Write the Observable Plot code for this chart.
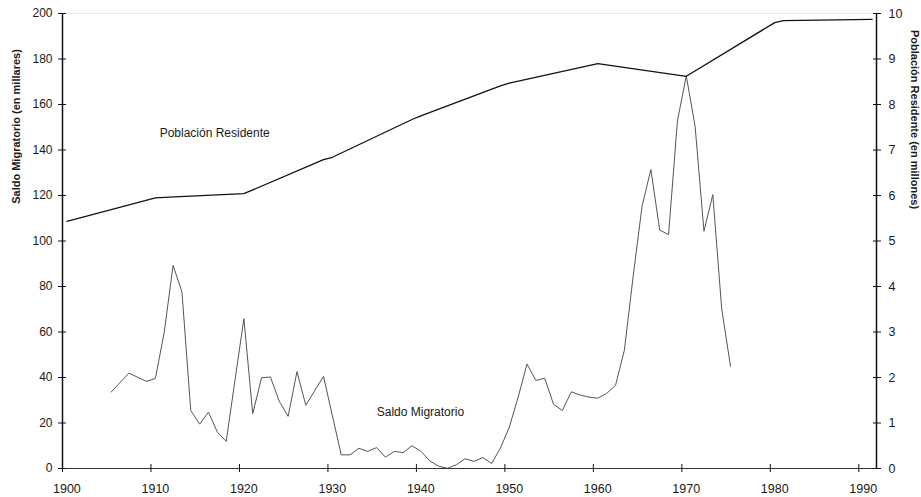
<!DOCTYPE html>
<html>
<head>
<meta charset="utf-8">
<script src="https://cdn.jsdelivr.net/npm/d3@7"></script>
<script src="https://cdn.jsdelivr.net/npm/@observablehq/plot@0.6"></script>
<style>
  html, body { margin: 0; padding: 0; background: #fff; }
  #chart { width: 921px; height: 497px; }
</style>
</head>
<body>
<div id="chart"></div>
<script>
// Saldo Migratorio (en millares)
const migYears = [1905,1907,1909,1910,1911,1912,1913,1914,1915,1916,1917,1918,1920,1921,1922,1923,1924,1925,1926,1927,1929,
  1931,1932,1933,1934,1935,1936,1937,1938,1939,1940,1941,1942,1943,1944,1945,1946,1947,1948,1949,1950,
  1951,1952,1953,1954,1955,1956,1957,1958,1959,1960,1961,1962,1963,1964,1965,1966,1967,1968,1969,1970,
  1971,1972,1973,1974,1975];
const migValues = [33.6,41.9,38.3,39.6,60.0,89.3,77.6,25.5,19.5,24.8,16.0,11.9,65.9,24.1,39.9,40.2,29.6,22.9,42.6,27.8,40.5,
  6.0,6.0,8.9,7.5,9.2,5.0,7.5,7.0,10.0,7.6,3.4,1.0,0.1,1.6,4.3,3.1,4.8,2.2,9.0,18.2,
  31.4,45.9,38.7,39.7,28.2,25.5,33.7,32.3,31.4,30.9,33.0,36.5,51.9,84.5,115.3,131.4,104.8,102.8,152.8,172.6,
  150.4,104.3,120.4,70.3,44.9];

// Población Residente (en millones)
const popYears = [1900,1910,1911,1920,1929,1930,1939,1940,1949,1950,1960,1970,1980,1981,1991];
const popValues = [5.43,5.95,5.96,6.04,6.79,6.84,7.67,7.75,8.41,8.47,8.90,8.62,9.80,9.845,9.87];

// Axis ticks and texts
const xTicks = [1900,1910,1920,1930,1940,1950,1960,1970,1980,1990];
const leftTicks = [0,20,40,60,80,100,120,140,160,180,200];
const rightTickLabels = [0,1,2,3,4,5,6,7,8,9,10];
const leftTitle = "Saldo Migratorio (en millares)";
const rightTitle = "Población Residente (en millones)";
const popLabel = "Población Residente";
const migLabel = "Saldo Migratorio";

const ratio = 20; // 1 million on right axis = 20 thousand on left axis

const mig = migYears.map((y, i) => ({year: y, value: migValues[i]}));
const pop = popYears.map((y, i) => ({year: y, value: popValues[i]}));

const font = "'Liberation Sans', Arial, sans-serif";

const chart = Plot.plot({
  width: 921,
  height: 497,
  marginLeft: 62,
  marginRight: 45,
  marginTop: 13,
  marginBottom: 29,
  style: {fontFamily: font, fontSize: "12px", color: "#1a1a1a", background: "#fff", overflow: "visible"},
  x: {domain: [1900, 1992], axis: null},
  y: {domain: [0, 200], axis: null},
  marks: [
    Plot.ruleY([200], {stroke: "#e8e8e8", strokeWidth: 1}),
    // lines
    Plot.line(mig, {x: d => d.year + 0.5, y: "value", stroke: "#555", strokeWidth: 1}),
    Plot.line(pop, {x: d => d.year + 0.5, y: d => d.value * ratio, stroke: "#111", strokeWidth: 1.3}),
    // axis lines
    Plot.ruleY([0], {stroke: "#333", strokeWidth: 1}),
    Plot.ruleX([1900, 1992], {stroke: "#111", strokeWidth: 1.5}),
    // left axis
    Plot.axisY({anchor: "left", ticks: leftTicks, tickSize: 8, dx: 4, tickPadding: 6, tickFormat: "d", label: null, stroke: "#111", fontSize: 12}),
    // right axis
    Plot.axisY({anchor: "right", ticks: leftTicks, tickSize: 8, dx: -4, tickPadding: 8,
      tickFormat: d => String(rightTickLabels[leftTicks.indexOf(d)]), label: null, stroke: "#111", fontSize: 12.5}),
    // bottom axis ticks
    Plot.axisX({anchor: "bottom", ticks: xTicks, tickSize: 8, dy: -4, tickFormat: () => "", label: null, stroke: "#111"}),
    // bottom axis labels
    Plot.axisX({anchor: "bottom", ticks: xTicks, tickSize: 0, tickPadding: 16, dx: 4.4, tickFormat: "d", label: null, fontSize: 12.5}),
    // series labels
    Plot.text([popLabel], {x: 1917.2, y: 147.6, text: d => d, fontSize: 12, fill: "#1a1a1a"}),
    Plot.text([migLabel], {x: 1940.45, y: 24.6, text: d => d, fontSize: 12, fill: "#1a1a1a"}),
    // axis titles
    Plot.text([leftTitle], {frameAnchor: "top-left", dx: -46, dy: 113, rotate: -90, text: d => d,
      textAnchor: "middle", lineAnchor: "middle", fontSize: 11, fontWeight: "bold", fill: "#1a1a1a"}),
    Plot.text([rightTitle], {frameAnchor: "top-right", dx: 38, dy: 106, rotate: 90, text: d => d,
      textAnchor: "middle", lineAnchor: "middle", fontSize: 11, fontWeight: "bold", fill: "#1a1a1a"})
  ]
});

document.getElementById("chart").appendChild(chart);
</script>
</body>
</html>
